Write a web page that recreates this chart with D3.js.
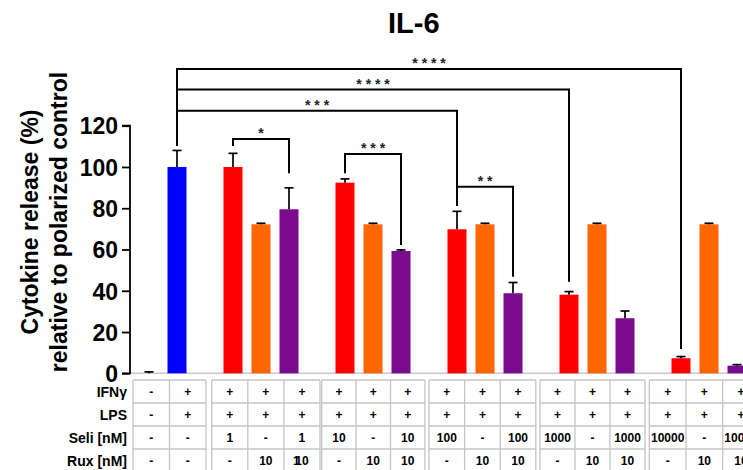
<!DOCTYPE html>
<html><head><meta charset="utf-8">
<script src="https://cdn.jsdelivr.net/npm/d3@7"></script>
<style>
body{margin:0;background:#fff}
svg{display:block;font-family:Arial,"Liberation Sans",sans-serif}
</style>
</head><body>
<svg id="c" width="743" height="470"></svg>
<script>
// ---------------- DATA ----------------
const categories = ["Control","Polarized","Seli 1","Rux 10","Seli 1 + Rux 10",
  "Seli 10","Rux 10","Seli 10 + Rux 10","Seli 100","Rux 10","Seli 100 + Rux 10",
  "Seli 1000","Rux 10","Seli 1000 + Rux 10","Seli 10000","Rux 10","Seli 10000 + Rux 10"];
const treatment = ["ctrl","pol","seli","rux","combo","seli","rux","combo","seli","rux","combo",
  "seli","rux","combo","seli","rux","combo"];
const values = [0,100,100,72.2,79.5,92.4,72.2,59.3,69.8,72.2,38.8,38.1,72.2,26.7,7.3,72.2,3.7];
const errors = [0.7,8,6.6,0.5,10.4,1.8,0.5,0.5,8.7,0.5,5.2,1.5,0.5,3.5,0.8,0.5,0.5];
const groupSizes = [2,3,3,3,3,3];
const yTicks = [0,20,40,60,80,100,120];
const rowLabels = ["IFNγ","LPS","Seli [nM]","Rux [nM]"];
const ifnRow  = ["-","+","+","+","+","+","+","+","+","+","+","+","+","+","+","+","+"];
const lpsRow  = ["-","+","+","+","+","+","+","+","+","+","+","+","+","+","+","+","+"];
const seliRow = ["-","-","1","-","1","10","-","10","100","-","100","1000","-","1000","10000","-","10000"];
const ruxRow  = ["-","-","-","10","10","-","10","10","-","10","10","-","10","10","-","10","10"];
const comparisons = [
  {a:1, b:14, label:"****", y:147.5, aEnd:110.2, bEnd:11.8},
  {a:1, b:11, label:"****", y:137.6, aEnd:110.2, bEnd:44.4},
  {a:1, b:8,  label:"***",  y:127.3, aEnd:110.2, bEnd:81.1},
  {a:2, b:4,  label:"*",    y:113.6, aEnd:110.2, bEnd:96.9},
  {a:5, b:7,  label:"***",  y:106.3, aEnd:96.9,  bEnd:62.2},
  {a:8, b:10, label:"**",   y:90.4,  aEnd:81.1,  bEnd:46.8}
];

// ---------------- STYLE / LAYOUT ----------------
const colors = {ctrl:"#000000", pol:"#0000FF", seli:"#FF0000", rux:"#FF6600", combo:"#7A0A8E"};
const W = 743, H = 470;
const plot = {left:130, top:125.7, bottom:373.3, xStart:135, xEnd:751};
const table = {top:380, rowH:23,
  blockLeft:[133,211.7,321.7,429,540,649.3],
  blockColW:[36.5,36.1,34.4,35.6,35,36.7]};

const svg = d3.select("#c");
svg.append("rect").attr("width",W).attr("height",H).attr("fill","#fff");

// slot domain: groups separated by an empty slot
const slots = [];
const groupOf = [], posInGroup = [];
let idx = 0;
groupSizes.forEach((n,g)=>{
  for(let k=0;k<n;k++){ slots.push("b"+idx); groupOf.push(g); posInGroup.push(k); idx++; }
  if(g < groupSizes.length-1) slots.push("gap"+g);
});
const x = d3.scaleBand().domain(slots).range([plot.xStart, plot.xEnd])
  .paddingInner(9/28).paddingOuter(4.5/28);
const cx = i => x("b"+i) + x.bandwidth()/2;
const y = d3.scaleLinear().domain([0,120]).range([plot.bottom, plot.top]);

// title
svg.append("text").attr("x",413.8).attr("y",32.7).attr("text-anchor","middle")
  .attr("font-size",29).attr("font-weight","bold").text("IL-6");

// y-axis title
const yt = svg.append("g").attr("font-weight","bold").attr("font-size",23).attr("text-anchor","middle");
yt.append("text").attr("transform","translate(38,222) rotate(-90)").text("Cytokine release (%)");
yt.append("text").attr("transform","translate(67,222) rotate(-90)").text("relative to polarized control");

// baseline (light gray)
svg.append("line").attr("x1",plot.left).attr("x2",W).attr("y1",y(0)).attr("y2",y(0))
  .attr("stroke","#c8c8c8").attr("stroke-width",1.5);

// bars
svg.append("g").selectAll("rect").data(values).join("rect")
  .attr("x",(d,i)=>x("b"+i)).attr("width",x.bandwidth())
  .attr("y",d=>y(d)).attr("height",d=>y(0)-y(d))
  .attr("fill",(d,i)=>colors[treatment[i]]);

// error bars
const eb = svg.append("g").attr("stroke","#000").attr("stroke-width",1.7);
values.forEach((v,i)=>{
  const c = cx(i);
  eb.append("line").attr("x1",c).attr("x2",c).attr("y1",y(v)).attr("y2",y(v+errors[i]));
  eb.append("line").attr("x1",c-4.5).attr("x2",c+4.5).attr("y1",y(v+errors[i])).attr("y2",y(v+errors[i]));
});

// y axis
const yAxis = d3.axisLeft(y).tickValues(yTicks).tickSize(8).tickPadding(4);
const ya = svg.append("g").attr("transform",`translate(${plot.left},0)`).call(yAxis);
ya.select(".domain").attr("stroke","#000").attr("stroke-width",1.8).attr("d",`M-8,${y(120)}H0V${y(0)}H-8`);
ya.selectAll(".tick line").attr("stroke","#000").attr("stroke-width",1.8);
ya.selectAll(".tick text").attr("font-size",23).attr("font-weight","bold")
  .attr("font-family",'Arial,"Liberation Sans",sans-serif').attr("fill","#000").attr("dy","0.36em");

// significance brackets
const br = svg.append("g");
comparisons.forEach(c=>{
  const xa = cx(c.a), xb = cx(c.b);
  br.append("path").attr("d",`M${xa},${y(c.aEnd)}V${y(c.y)}H${xb}V${y(c.bEnd)}`)
    .attr("fill","none").attr("stroke","#000").attr("stroke-width",2);
  br.append("text").attr("x",(xa+xb)/2 + 2).attr("y",y(c.y)-0.5).attr("text-anchor","middle")
    .attr("font-size",14).attr("font-weight","bold").attr("letter-spacing",3.9)
    .attr("fill","#222").text(c.label);
});

// table
const tbl = svg.append("g");
const rows = [ifnRow, lpsRow, seliRow, ruxRow];
const nRows = rows.length;
// row labels
rowLabels.forEach((t,r)=>{
  tbl.append("text").attr("x",127).attr("y",table.top + table.rowH*(r+0.5)).attr("dy","0.36em")
    .attr("text-anchor","end").attr("font-size",14).attr("font-weight","bold").text(t);
});
// grid per block
groupSizes.forEach((n,g)=>{
  const x0 = table.blockLeft[g], cw = table.blockColW[g];
  const gl = tbl.append("g").attr("stroke","#c4c4c4").attr("stroke-width",1.3).attr("fill","none");
  for(let r=0;r<=nRows;r++){
    gl.append("line").attr("x1",x0).attr("x2",x0+cw*n)
      .attr("y1",table.top+table.rowH*r).attr("y2",table.top+table.rowH*r);
  }
  for(let k=0;k<=n;k++){
    gl.append("line").attr("x1",x0+cw*k).attr("x2",x0+cw*k)
      .attr("y1",table.top).attr("y2",table.top+table.rowH*nRows);
  }
});
// cell text
categories.forEach((c,i)=>{
  const g = groupOf[i], k = posInGroup[i];
  const xc = table.blockLeft[g] + table.blockColW[g]*(k+0.5);
  rows.forEach((row,r)=>{
    tbl.append("text").attr("x",xc).attr("y",table.top + table.rowH*(r+0.5)).attr("dy","0.36em")
      .attr("text-anchor","middle").attr("font-size",12).attr("font-weight","bold").text(row[i]);
  });
});
// overlapping glyph artefact in the Seli 1 + Rux 10 cell
{
  const xc = table.blockLeft[1] + table.blockColW[1]*2.5;
  tbl.append("text").attr("x",xc-5.5).attr("y",table.top + table.rowH*3.5).attr("dy","0.36em")
    .attr("text-anchor","middle").attr("font-size",12).attr("font-weight","bold").text("1");
}
</script>
</body></html>
